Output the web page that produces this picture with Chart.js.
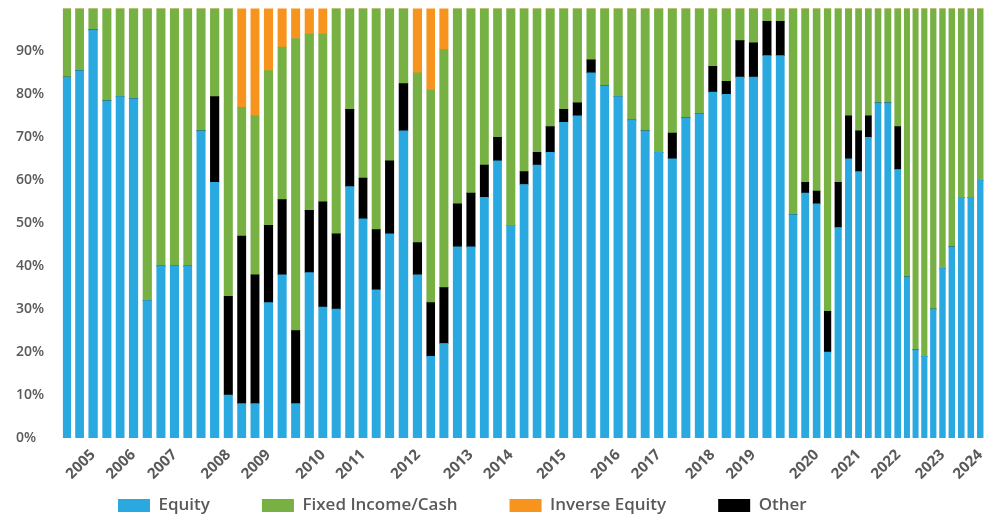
<!DOCTYPE html>
<html>
<head>
<meta charset="utf-8">
<script src="https://cdn.jsdelivr.net/npm/chart.js@4.4.1/dist/chart.umd.min.js"></script>
<style>
  html, body { margin: 0; padding: 0; background: #fff; }
  #wrap { width: 1001px; height: 515px; }
</style>
</head>
<body>
<div id="wrap"><canvas id="my-canvas"></canvas></div>
<script>
// snapshot dates (decimal years)
const dates = [2004.51, 2004.77, 2005.07, 2005.37, 2005.65, 2005.93, 2006.24, 2006.52, 2006.82, 2007.10, 2007.38, 2007.68, 2007.97,
  2008.26, 2008.54, 2008.83, 2009.13, 2009.41, 2009.71, 2010.00, 2010.28, 2010.58, 2010.86, 2011.14, 2011.43,
  2011.72, 2012.04, 2012.31, 2012.59, 2012.89, 2013.17, 2013.47, 2013.74, 2014.03, 2014.32, 2014.59, 2014.87,
  2015.17, 2015.45, 2015.76, 2016.04, 2016.33, 2016.63, 2016.91, 2017.20, 2017.50, 2017.78, 2018.08, 2018.36,
  2018.65, 2018.95, 2019.23, 2019.53, 2019.81, 2020.09, 2020.35, 2020.59, 2020.83, 2021.05, 2021.28,
  2021.49, 2021.70, 2021.91, 2022.11, 2022.34, 2022.53, 2022.71, 2022.90, 2023.09, 2023.29, 2023.49, 2023.69, 2023.90, 2024.10];

const equity = [84, 85.5, 95, 78.5, 79.5, 79, 32, 40, 40, 40, 71.5, 59.5, 10,
  8, 8, 31.5, 38, 8, 38.5, 30.5, 30, 58.5, 51, 34.5, 47.5,
  71.5, 38, 19, 22, 44.5, 44.5, 56, 64.5, 49.5, 59, 63.5, 66.5,
  73.5, 75, 85, 82, 79.5, 74, 71.5, 66.5, 65, 74.5, 75.5, 80.5,
  80, 84, 84, 89, 89, 52, 57, 54.5, 20, 49, 65,
  62, 70, 78, 78, 62.5, 37.5, 20.5, 19, 30, 39.5, 44.5, 56, 56, 60];

const other = [0, 0, 0, 0, 0, 0, 0, 0, 0, 0, 0, 20, 23,
  39, 30, 18, 17.5, 17, 14.5, 24.5, 17.5, 18, 9.5, 14, 17,
  11, 7.5, 12.5, 13, 10, 12.5, 7.5, 5.5, 0, 3, 3, 6,
  3, 3, 3, 0, 0, 0, 0, 0, 6, 0, 0, 6,
  3, 8.5, 8, 8, 8, 0, 2.5, 3, 9.5, 10.5, 10,
  9.5, 5, 0, 0, 10, 0, 0, 0, 0, 0, 0, 0, 0, 0];

const fixedIncome = [16, 14.5, 5, 21.5, 20.5, 21, 68, 60, 60, 60, 28.5, 20.5, 67,
  30, 37, 36, 35.5, 68, 41, 39, 52.5, 23.5, 39.5, 51.5, 35.5,
  17.5, 39.5, 49.5, 55.5, 45.5, 43, 36.5, 30, 50.5, 38, 33.5, 27.5,
  23.5, 22, 12, 18, 20.5, 26, 28.5, 33.5, 29, 25.5, 24.5, 13.5,
  17, 7.5, 8, 3, 3, 48, 40.5, 42.5, 70.5, 40.5, 25,
  28.5, 25, 22, 22, 27.5, 62.5, 79.5, 81, 70, 60.5, 55.5, 44, 44, 40];

const inverseEquity = [0, 0, 0, 0, 0, 0, 0, 0, 0, 0, 0, 0, 0,
  23, 25, 14.5, 9, 7, 6, 6, 0, 0, 0, 0, 0,
  0, 15, 19, 9.5, 0, 0, 0, 0, 0, 0, 0, 0,
  0, 0, 0, 0, 0, 0, 0, 0, 0, 0, 0, 0,
  0, 0, 0, 0, 0, 0, 0, 0, 0, 0, 0,
  0, 0, 0, 0, 0, 0, 0, 0, 0, 0, 0, 0, 0, 0];

// which bar (1-based) carries each year label
const yearLabels = ['2005', '2006', '2007', '2008', '2009', '2010', '2011', '2012', '2013', '2014',
  '2015', '2016', '2017', '2018', '2019', '2020', '2021', '2022', '2023', '2024'];
const yearTickBars = [3, 6, 9, 13, 16, 20, 23, 27, 31, 34, 38, 42, 45, 49, 52, 57, 61, 65, 70, 74];

const legendOrder = ['Equity', 'Fixed Income/Cash', 'Inverse Equity', 'Other'];

const LEGEND_PAD = 52;
const textGrey = '#58595b';

// big horizontal gap between legend items, but no extra vertical room;
// the row starts a little right of the plot's left edge
const legendRow = {
  id: 'legendRow',
  afterInit(chart) {
    const lg = chart.legend;
    const fit = lg.fit;
    lg.fit = function () {
      fit.call(this);
      this.height = 18;
    };
  },
  afterLayout(chart) {
    chart.legend.top -= LEGEND_PAD;
    chart.legend.left = chart.chartArea.left + 6;
  }
};

const ctx = document.getElementById('my-canvas').getContext('2d');
const chart = new Chart(ctx, {
  type: 'bar',
  data: {
    labels: dates,
    datasets: [
      { label: 'Equity', data: equity, backgroundColor: '#2aa9e0' },
      { label: 'Other', data: other, backgroundColor: '#000000' },
      { label: 'Fixed Income/Cash', data: fixedIncome, backgroundColor: '#77b043' },
      { label: 'Inverse Equity', data: inverseEquity, backgroundColor: '#f7941e' }
    ]
  },
  options: {
    responsive: true,
    maintainAspectRatio: false,
    animation: false,
    barThickness: 'flex',
    categoryPercentage: 1,
    barPercentage: 0.62,
    layout: { padding: { top: 8, right: 4, left: 16, bottom: 0 } },
    scales: {
      x: {
        type: 'linear',
        stacked: true,
        offset: false,
        min: 2004.36,
        max: 2024.22,
        grid: { display: false, drawTicks: false },
        border: { display: false },
        afterBuildTicks: scale => {
          scale.ticks = yearTickBars.map(b => ({ value: dates[b - 1] }));
        },
        afterFit: scale => { scale.height = 59; },
        ticks: {
          autoSkip: false,
          minRotation: 45,
          maxRotation: 45,
          padding: 8,
          color: textGrey,
          font: { family: 'Open Sans', size: 15, weight: '700' },
          callback: (value, index) => yearLabels[index]
        }
      },
      y: {
        stacked: true,
        min: 0,
        max: 100,
        grid: { display: false, drawTicks: false },
        border: { display: false },
        afterFit: scale => { scale.width = 44; },
        ticks: {
          stepSize: 10,
          padding: 0,
          crossAlign: 'far',
          color: textGrey,
          font: { family: 'Open Sans', size: 14, weight: '600' },
          callback: v => (v < 100 ? v + '%' : null)
        }
      }
    },
    plugins: {
      tooltip: { enabled: false },
      legend: {
        position: 'bottom',
        align: 'start',
        labels: {
          boxWidth: 32,
          boxHeight: 13,
          padding: LEGEND_PAD,
          color: textGrey,
          font: { family: 'Open Sans', size: 17, weight: '600' },
          sort: (a, b) => legendOrder.indexOf(a.text) - legendOrder.indexOf(b.text)
        }
      }
    }
  },
  plugins: [legendRow]
});
</script>
</body>
</html>
